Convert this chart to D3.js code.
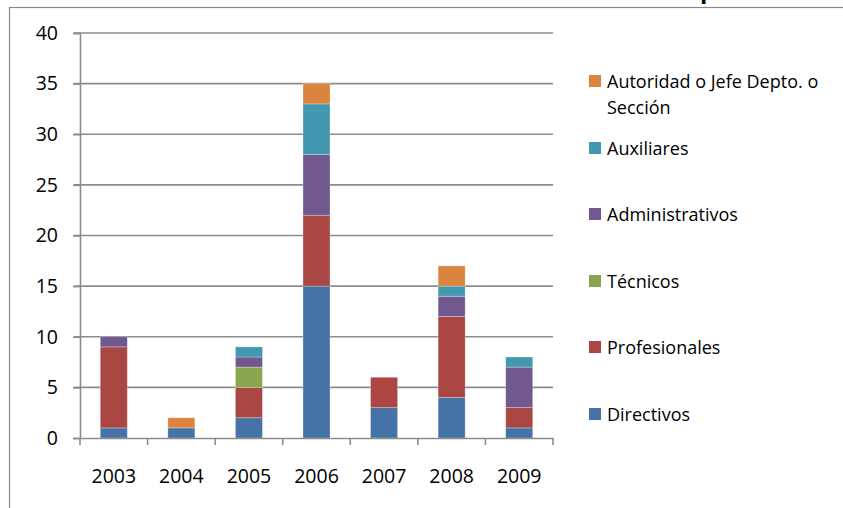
<!DOCTYPE html>
<html>
<head>
<meta charset="utf-8">
<script src="https://cdn.jsdelivr.net/npm/d3@7"></script>
<style>
  body { margin: 0; background: #fff; }
  svg { display: block; font-family: "Open Sans", sans-serif; }
</style>
</head>
<body>
<svg width="843" height="508"></svg>
<script>
'use strict';

// categories and series (bottom to top of each stack)
var years = ['2003', '2004', '2005', '2006', '2007', '2008', '2009'];
var seriesNames = ['Directivos', 'Profesionales', 'Técnicos', 'Administrativos', 'Auxiliares', 'Autoridad o Jefe Depto. o Sección'];
var directivos      = [1, 1, 2, 15, 3, 4, 1];
var profesionales   = [8, 0, 3, 7, 3, 8, 2];
var tecnicos        = [0, 0, 2, 0, 0, 0, 0];
var administrativos = [1, 0, 1, 6, 0, 2, 4];
var auxiliares      = [0, 0, 1, 5, 0, 1, 1];
var autoridad       = [0, 1, 0, 2, 0, 2, 0];
var yTicks = [0, 5, 10, 15, 20, 25, 30, 35, 40];
var colors = ['#4572A7', '#AA4643', '#89A54E', '#71588F', '#4198AF', '#DB843D'];

var svg = d3.select('svg');

// outer chart border (cut off at right / bottom)
svg.append('rect')
    .attr('x', 9.5).attr('y', 7.5)
    .attr('width', 900).attr('height', 600)
    .attr('fill', 'none').attr('stroke', '#8a8a8a').attr('stroke-width', 1.2);

// clipped title, only a descender peeks in
svg.append('text')
    .attr('x', 700).attr('y', -2)
    .attr('font-weight', 'bold').attr('font-size', 24)
    .text('p');

var pLeft = 80, pRight = 553, pTop = 33, pBottom = 438;

var x = d3.scaleBand().domain(years).range([pLeft, pRight]).paddingInner(0.6).paddingOuter(0.3);
var xb = d3.scaleBand().domain(years).range([pLeft, pRight]);
var y = d3.scaleLinear().domain([0, 40]).range([pBottom, pTop]);

var table = years.map(function (yr, i) {
    return {
        year: yr,
        Directivos: directivos[i],
        Profesionales: profesionales[i],
        'Técnicos': tecnicos[i],
        Administrativos: administrativos[i],
        Auxiliares: auxiliares[i],
        'Autoridad o Jefe Depto. o Sección': autoridad[i]
    };
});
var stacked = d3.stack().keys(seriesNames)(table);

// gridlines
svg.append('g').selectAll('line').data(yTicks.slice(1)).join('line')
    .attr('x1', pLeft - 6).attr('x2', pRight)
    .attr('y1', function (d) { return y(d); }).attr('y2', function (d) { return y(d); })
    .attr('stroke', '#8c8c8c').attr('stroke-width', 1.6);

// y axis
var yAxis = svg.append('g').attr('transform', 'translate(' + pLeft + ',0)')
    .call(d3.axisLeft(y).tickValues(yTicks).tickSize(7).tickPadding(15));
yAxis.select('.domain').attr('stroke', '#8c8c8c').attr('stroke-width', 1.6);
yAxis.selectAll('.tick line').attr('stroke', '#8c8c8c').attr('stroke-width', 1.6);
yAxis.selectAll('.tick text').attr('font-size', 19.5).attr('fill', '#000')
    .attr('font-family', '"Open Sans", sans-serif');

// bars
svg.append('g').selectAll('g').data(stacked).join('g')
    .attr('fill', function (d, i) { return colors[i]; })
    .selectAll('rect').data(function (d) { return d.filter(function (s) { return s[1] > s[0]; }); }).join('rect')
    .attr('x', function (d) { return x(d.data.year); })
    .attr('width', x.bandwidth())
    .attr('y', function (d) { return y(d[1]); })
    .attr('height', function (d) { return y(d[0]) - y(d[1]); })
    .attr('stroke', 'rgba(255,255,255,0.35)').attr('stroke-width', 0.8);

// x axis
var xAxis = svg.append('g').attr('transform', 'translate(0,' + pBottom + ')')
    .call(d3.axisBottom(xb).tickSize(0).tickPadding(31));
xAxis.select('.domain').attr('stroke', '#8c8c8c').attr('stroke-width', 1.6);
xAxis.selectAll('.tick text').attr('font-size', 19.5).attr('fill', '#000')
    .attr('font-family', '"Open Sans", sans-serif');
svg.append('g').selectAll('line').data(years.concat(['end'])).join('line')
    .attr('x1', function (d) { return d === 'end' ? pRight : xb(d); })
    .attr('x2', function (d) { return d === 'end' ? pRight : xb(d); })
    .attr('y1', pBottom).attr('y2', pBottom + 7)
    .attr('stroke', '#8c8c8c').attr('stroke-width', 1.6);

// legend (top entry is last series)
var legendItems = seriesNames.slice().reverse();
var legendColors = colors.slice().reverse();
var legendY = [81, 148, 214, 281, 347, 414];
var lg = svg.append('g').selectAll('g').data(legendItems).join('g')
    .attr('transform', function (d, i) { return 'translate(589,' + legendY[i] + ')'; });
lg.append('rect')
    .attr('x', 0).attr('y', -6).attr('width', 12).attr('height', 12)
    .attr('fill', function (d, i) { return legendColors[i]; });
lg.each(function (d) {
    var t = d3.select(this).append('text')
        .attr('x', 18).attr('y', 7)
        .attr('font-size', 18).attr('fill', '#000');
    if (d.indexOf('Sección') >= 0) {
        t.append('tspan').attr('x', 18).attr('dy', 0).text('Autoridad o Jefe Depto. o');
        t.append('tspan').attr('x', 18).attr('dy', 26).text('Sección');
    } else {
        t.text(d);
    }
});
</script>
</body>
</html>
